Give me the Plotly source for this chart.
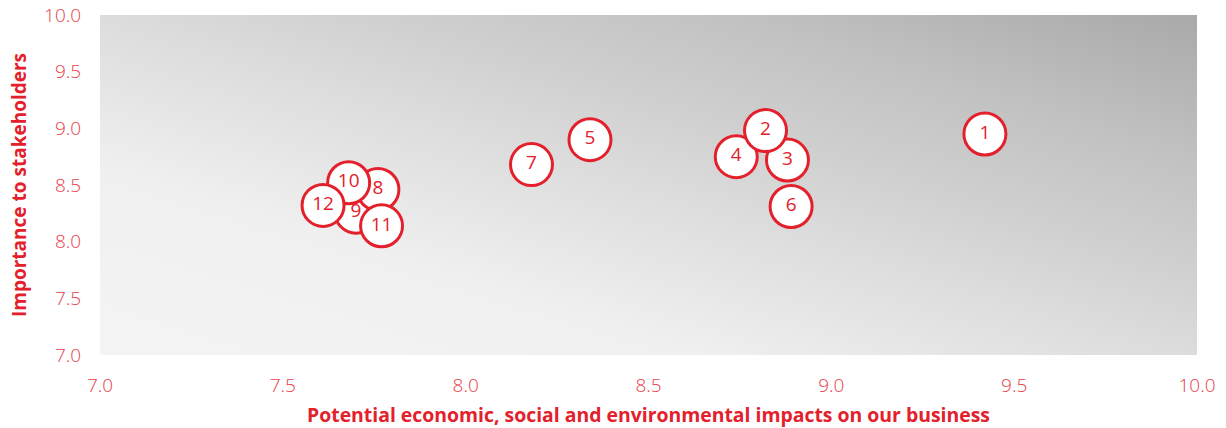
import plotly.graph_objects as go

# Data (listed in drawing order so overlaps match)
labels = ["1", "6", "7", "5", "4", "3", "2", "9", "8", "10", "12", "11"]
impact = [9.42, 8.89, 8.18, 8.34, 8.74, 8.88, 8.82, 7.70, 7.76, 7.68, 7.61, 7.77]
importance = [8.95, 8.31, 8.68, 8.90, 8.75, 8.72, 8.98, 8.26, 8.46, 8.52, 8.32, 8.14]
tick_vals = [7.0, 7.5, 8.0, 8.5, 9.0, 9.5, 10.0]
tick_text = ["7.0", "7.5", "8.0", "8.5", "9.0", "9.5", "10.0"]

RED = "#e3202b"
TICK_RED = "#e6414b"

svg = ("data:image/svg+xml;utf8,"
       "<svg xmlns='http://www.w3.org/2000/svg' width='100' height='100' viewBox='0 0 100 100' preserveAspectRatio='none'>"
       "<defs><linearGradient id='g' x1='0' y1='1' x2='1' y2='0'>"
       "<stop offset='0' stop-color='%23f4f4f4'/>"
       "<stop offset='0.27' stop-color='%23f0f0f0'/>"
       "<stop offset='0.5' stop-color='%23dcdcdc'/>"
       "<stop offset='0.62' stop-color='%23d0d0d0'/>"
       "<stop offset='0.78' stop-color='%23c2c2c2'/>"
       "<stop offset='1' stop-color='%23a9a9a9'/>"
       "</linearGradient></defs>"
       "<rect width='100' height='100' fill='url(%23g)'/></svg>")

fig = go.Figure()
fig.add_trace(go.Scatter(
    x=impact, y=importance, mode="markers+text", text=labels,
    textposition="middle center",
    textfont=dict(family="Open Sans", size=19, color=RED),
    marker=dict(size=42, color="white", line=dict(color=RED, width=3), opacity=1),
    hoverinfo="skip", cliponaxis=False,
))

fig.update_layout(
    width=1226, height=428,
    margin=dict(l=100, r=29, t=15, b=73),
    paper_bgcolor="white", plot_bgcolor="#e0e0e0",
    showlegend=False,
    images=[dict(source=svg, xref="x", yref="y", x=7, y=10, sizex=3, sizey=3,
                 sizing="stretch", layer="below")],
    xaxis=dict(range=[7, 10], tickvals=tick_vals, ticktext=tick_text, automargin=False,
               showgrid=False, zeroline=False, showline=False,
               ticks="outside", ticklen=13, tickcolor="rgba(0,0,0,0)",
               tickfont=dict(family="Open Sans", size=19, color=TICK_RED, weight=300),
               title=dict(text="Potential economic, social and environmental impacts on our business",
                          font=dict(family="Open Sans", size=19.4, color=RED, weight=700), standoff=14)),
    yaxis=dict(range=[7, 10], tickvals=tick_vals, ticktext=tick_text, automargin=False,
               showgrid=False, zeroline=False, showline=False,
               ticks="outside", ticklen=14, tickcolor="rgba(0,0,0,0)",
               tickfont=dict(family="Open Sans", size=19, color=TICK_RED, weight=300),
               title=dict(text="Importance to stakeholders",
                          font=dict(family="Open Sans", size=19, color=RED, weight=700), standoff=12)),
)

fig.write_html("out.html", config={"displayModeBar": False},
               post_script="document.body.style.margin='0';document.body.style.padding='0';")
